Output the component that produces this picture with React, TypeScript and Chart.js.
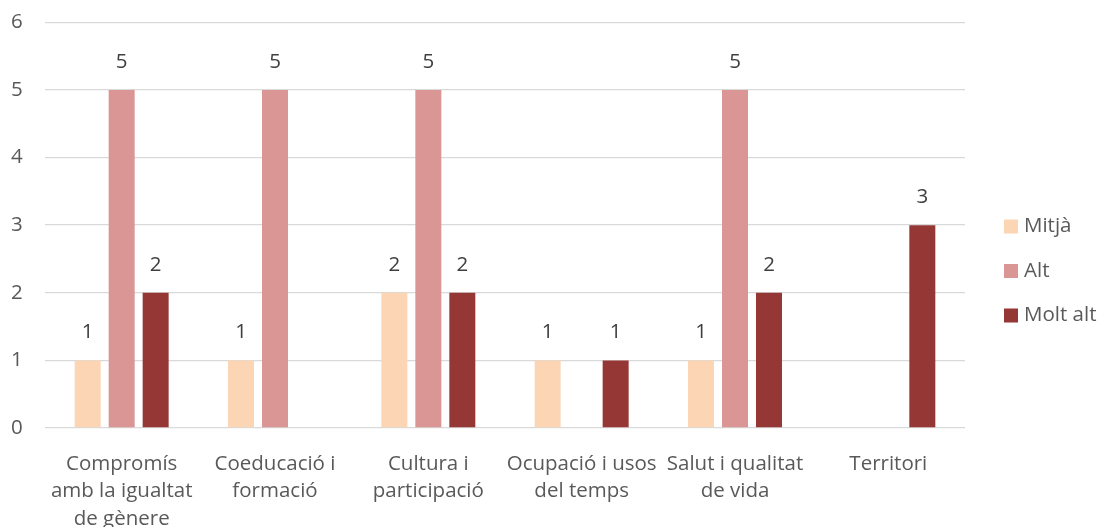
import React, { useEffect, useRef } from "react";
import { Chart, registerables } from "chart.js";

Chart.register(...registerables);

const categories: (string | string[])[] = [
  ["Compromís", "amb la igualtat", "de gènere"],
  ["Coeducació i", "formació"],
  ["Cultura i", "participació"],
  ["Ocupació i usos", "del temps"],
  ["Salut i qualitat", "de vida"],
  "Territori",
];
const seriesNames = ["Mitjà", "Alt", "Molt alt"];
const seriesColors = ["#FCD5B5", "#D99694", "#953735"];
const mitja: (number | null)[] = [1, 1, 2, 1, 1, null];
const alt: (number | null)[] = [5, 5, 5, null, 5, null];
const moltAlt: (number | null)[] = [2, null, 2, 1, 2, 3];
const yTicks = [0, 1, 2, 3, 4, 5, 6];

const FONT = "'Open Sans', sans-serif";
const FS = 20.5;
const TEXT = "#595959";

const valueLabels = {
  id: "valueLabels",
  afterDatasetsDraw(chart: any) {
    const ctx = chart.ctx;
    ctx.save();
    ctx.font = `${FS}px ${FONT}`;
    ctx.fillStyle = "#404040";
    ctx.textAlign = "center";
    ctx.textBaseline = "middle";
    chart.data.datasets.forEach((ds: any, i: number) => {
      const meta = chart.getDatasetMeta(i);
      meta.data.forEach((el: any, j: number) => {
        const v = ds.data[j];
        if (v === null || v === undefined) return;
        ctx.fillText(String(v), el.x, el.y - 28);
      });
    });
    ctx.restore();
  },
};

const sideLegend = {
  id: "sideLegend",
  afterDraw(chart: any) {
    const ctx = chart.ctx;
    const area = chart.chartArea;
    ctx.save();
    ctx.font = `${FS}px ${FONT}`;
    ctx.textAlign = "left";
    ctx.textBaseline = "middle";
    const n = chart.data.datasets.length;
    const step = 44.5;
    const cy = 271;
    chart.data.datasets.forEach((ds: any, i: number) => {
      const y = cy + (i - (n - 1) / 2) * step;
      const x = area.right + 39;
      ctx.fillStyle = ds.backgroundColor;
      ctx.fillRect(x, y - 7, 14, 14);
      ctx.fillStyle = TEXT;
      ctx.fillText(ds.label, x + 20, y);
    });
    ctx.restore();
  },
};

export default function App() {
  const ref = useRef<HTMLCanvasElement>(null);
  useEffect(() => {
    document.body.style.margin = "0";
    const chart = new Chart(ref.current!, {
      type: "bar",
      data: {
        labels: categories,
        datasets: [
          { label: seriesNames[0], data: mitja, backgroundColor: seriesColors[0] },
          { label: seriesNames[1], data: alt, backgroundColor: seriesColors[1] },
          { label: seriesNames[2], data: moltAlt, backgroundColor: seriesColors[2] },
        ],
      },
      options: {
        animation: false,
        responsive: false,
        maintainAspectRatio: false,
        layout: { padding: { top: 0, left: 11, right: 137, bottom: 0 } },
        datasets: {
          bar: { categoryPercentage: 0.665, barPercentage: 0.765 },
        },
        plugins: {
          legend: { display: false },
          tooltip: { enabled: false },
        },
        scales: {
          x: {
            grid: { display: false },
            border: { display: false },
            afterFit: (axis: any) => {
              axis.height = 99;
            },
            ticks: {
              color: TEXT,
              font: { family: FONT, size: FS, lineHeight: 1.34 },
              maxRotation: 0,
              autoSkip: false,
              padding: 14,
            },
          },
          y: {
            min: 0,
            max: 6,
            afterBuildTicks: (axis: any) => {
              axis.ticks = yTicks.map((v) => ({ value: v }));
            },
            afterFit: (axis: any) => {
              axis.width = 34;
            },
            grid: { color: "#D9D9D9", lineWidth: 1.3, drawTicks: false },
            border: { display: false },
            ticks: {
              color: TEXT,
              font: { family: FONT, size: FS },
              padding: 10,
              crossAlign: "far",
            },
          },
        },
      },
      plugins: [valueLabels, sideLegend],
    });
    return () => chart.destroy();
  }, []);
  return (
    <div style={{ width: 1102, height: 527, background: "#fff" }}>
      <canvas ref={ref} width={1102} height={527} />
    </div>
  );
}
